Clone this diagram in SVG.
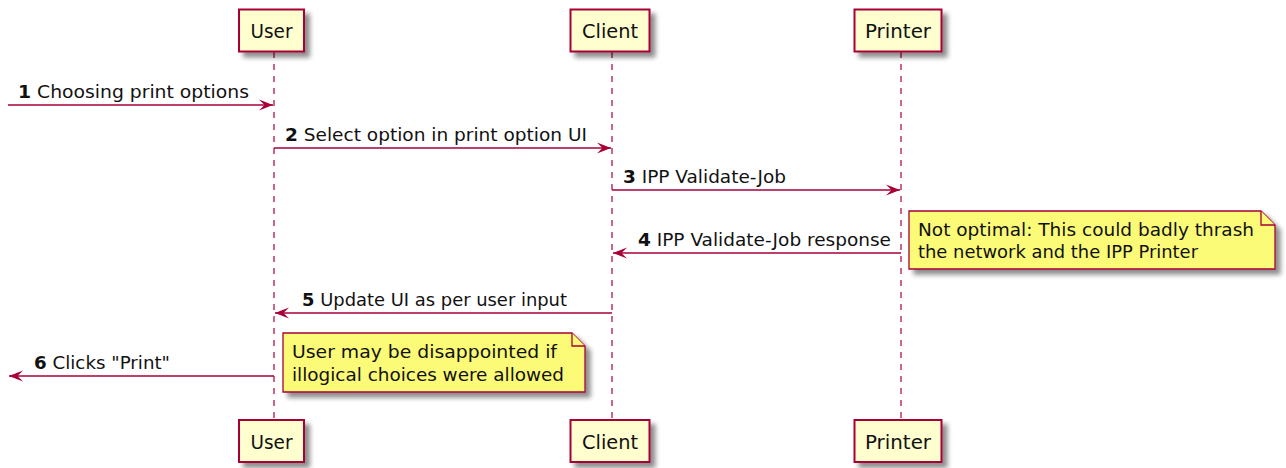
<svg xmlns="http://www.w3.org/2000/svg" width="1286" height="468" viewBox="0 0 1286 468">
<defs>
<filter id="sh" x="-10%" y="-10%" width="130%" height="140%">
<feGaussianBlur in="SourceAlpha" stdDeviation="2.5"/>
<feOffset dx="5" dy="5" result="b"/>
<feComponentTransfer><feFuncA type="linear" slope="0.45"/></feComponentTransfer>
<feMerge><feMergeNode/><feMergeNode in="SourceGraphic"/></feMerge>
</filter>
<marker id="ah" viewBox="0 0 14 12" refX="14" refY="6" markerWidth="14" markerHeight="12" markerUnits="userSpaceOnUse" orient="auto-start-reverse">
<path d="M0,0.5 L14,6 L0,11.5 L5.5,6 Z" fill="#A80036"/>
</marker>
</defs>
<style>
.lf{stroke:#A80036;stroke-width:1.2;stroke-dasharray:6,6;fill:none}
.pb{fill:#FEFECE;stroke:#A80036;stroke-width:2}
.pt{font-family:"DejaVu Sans",Verdana,sans-serif;font-size:19.5px;fill:#111;text-anchor:middle}
.msg{stroke:#A80036;stroke-width:1.4;fill:none;marker-end:url(#ah)}
.mt{font-family:"DejaVu Sans",Verdana,sans-serif;font-size:17.5px;fill:#111}
.num{font-weight:bold}
.nb{fill:#FBFB77;stroke:#A80036;stroke-width:1.3}
.nt{font-family:"DejaVu Sans",Verdana,sans-serif;font-size:17.5px;fill:#111}
</style>
<rect width="1286" height="468" fill="#fff"/>
<g id="lifelines">
<line class="lf" x1="274" y1="52" x2="274" y2="420"/>
<line class="lf" x1="612" y1="52" x2="612" y2="420"/>
<line class="lf" x1="901" y1="52" x2="901" y2="420"/>
</g>
<g id="user-top"><rect class="pb" x="239" y="9.5" width="65" height="42" filter="url(#sh)"/><text class="pt" x="271.5" y="38" textLength="42" lengthAdjust="spacingAndGlyphs">User</text></g>
<g id="client-top"><rect class="pb" x="570.5" y="9.5" width="79" height="42" filter="url(#sh)"/><text class="pt" x="610" y="38" textLength="56" lengthAdjust="spacingAndGlyphs">Client</text></g>
<g id="printer-top"><rect class="pb" x="854.5" y="9.5" width="87" height="42" filter="url(#sh)"/><text class="pt" x="898" y="38" textLength="66" lengthAdjust="spacingAndGlyphs">Printer</text></g>
<g id="user-bottom"><rect class="pb" x="239" y="420" width="65" height="42" filter="url(#sh)"/><text class="pt" x="271.5" y="448.5" textLength="42" lengthAdjust="spacingAndGlyphs">User</text></g>
<g id="client-bottom"><rect class="pb" x="570.5" y="420" width="79" height="42" filter="url(#sh)"/><text class="pt" x="610" y="448.5" textLength="56" lengthAdjust="spacingAndGlyphs">Client</text></g>
<g id="printer-bottom"><rect class="pb" x="854.5" y="420" width="87" height="42" filter="url(#sh)"/><text class="pt" x="898" y="448.5" textLength="66" lengthAdjust="spacingAndGlyphs">Printer</text></g>
<g id="connectors">
<line class="msg" x1="8" y1="105" x2="273" y2="105"/>
<text class="mt" x="18" y="98" textLength="231" lengthAdjust="spacingAndGlyphs"><tspan class="num">1</tspan> Choosing print options</text>
<line class="msg" x1="274" y1="148" x2="611" y2="148"/>
<text class="mt" x="285" y="141" textLength="302" lengthAdjust="spacingAndGlyphs"><tspan class="num">2</tspan> Select option in print option UI</text>
<line class="msg" x1="612" y1="190" x2="900" y2="190"/>
<text class="mt" x="623" y="183" textLength="163" lengthAdjust="spacingAndGlyphs"><tspan class="num">3</tspan> IPP Validate-Job</text>
<line class="msg" x1="901" y1="253" x2="613" y2="253"/>
<text class="mt" x="638" y="246" textLength="253" lengthAdjust="spacingAndGlyphs"><tspan class="num">4</tspan> IPP Validate-Job response</text>
<line class="msg" x1="612" y1="313" x2="275" y2="313"/>
<text class="mt" x="302" y="306" textLength="265" lengthAdjust="spacingAndGlyphs"><tspan class="num">5</tspan> Update UI as per user input</text>
<line class="msg" x1="274" y1="376" x2="9" y2="376"/>
<text class="mt" x="34" y="369" textLength="136" lengthAdjust="spacingAndGlyphs"><tspan class="num">6</tspan> Clicks "Print"</text>
</g>
<g id="note-printer">
<path class="nb" d="M909,211 L1261,211 L1275,225 L1275,269 L909,269 Z" filter="url(#sh)"/>
<path class="nb" d="M1261,211 L1261,225 L1275,225"/>
<text class="nt" x="918" y="236" textLength="336" lengthAdjust="spacingAndGlyphs">Not optimal: This could badly thrash</text>
<text class="nt" x="918" y="258" textLength="280" lengthAdjust="spacingAndGlyphs">the network and the IPP Printer</text>
</g>
<g id="note-user">
<path class="nb" d="M283,333 L572,333 L585,346 L585,392 L283,392 Z" filter="url(#sh)"/>
<path class="nb" d="M572,333 L572,346 L585,346"/>
<text class="nt" x="292" y="358" textLength="265" lengthAdjust="spacingAndGlyphs">User may be disappointed if</text>
<text class="nt" x="292" y="381" textLength="272" lengthAdjust="spacingAndGlyphs">illogical choices were allowed</text>
</g>
</svg>
